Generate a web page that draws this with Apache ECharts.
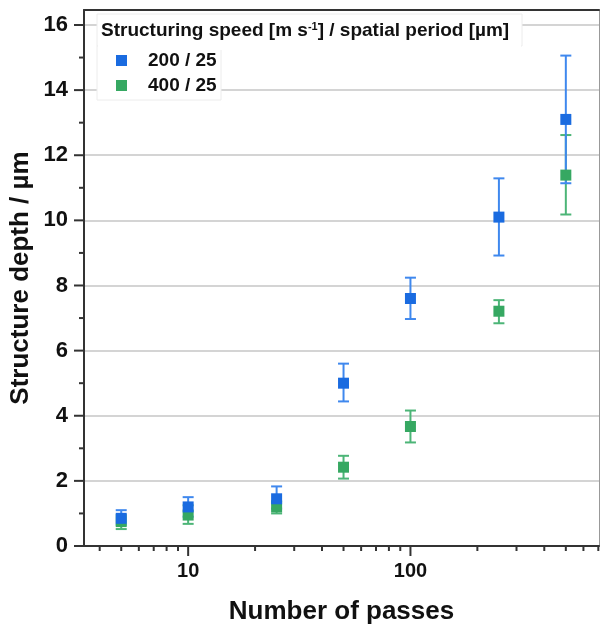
<!DOCTYPE html>
<html>
<head>
<meta charset="utf-8">
<script src="https://cdn.jsdelivr.net/npm/echarts@6/dist/echarts.min.js"></script>
<style>html,body{margin:0;padding:0;background:#fff;}#c{width:601px;height:625px;}</style>
</head>
<body>
<div id="c"></div>
<script>
const passes = [5, 10, 25, 50, 100, 250, 500];
const depth200 = [0.85, 1.2, 1.45, 5.0, 7.6, 10.1, 13.1];
const low200 = [0.65, 0.9, 1.15, 4.44, 6.97, 8.92, 11.14];
const high200 = [1.1, 1.5, 1.83, 5.6, 8.24, 11.29, 15.06];
const depth400 = [0.75, 0.95, 1.2, 2.42, 3.67, 7.21, 11.39];
const low400 = [0.52, 0.68, 1.0, 2.07, 3.18, 6.84, 10.18];
const high400 = [0.95, 1.25, 1.38, 2.77, 4.16, 7.55, 12.62];
const seriesNames = ['200 / 25', '400 / 25'];
const xMajorTicks = [10, 100];
const xMinorTicks = [4, 5, 6, 7, 8, 9, 20, 30, 40, 50, 60, 70, 80, 90, 200, 300, 400, 500, 600, 700];
const yMajorTicks = [0, 2, 4, 6, 8, 10, 12, 14, 16];
const yMinorTicks = [1, 3, 5, 7, 9, 11, 13, 15];
const X_MIN = 3.4, X_MAX = 705, Y_MIN = 0, Y_MAX = 16.46;

const FONT = 'Arial, "Liberation Sans", sans-serif';
const blueMark = '#1a6be0', blueLine = '#3f88ee';
const greenMark = '#36a862', greenLine = '#4cb577';

function errSeries(name, lows, highs, color) {
  return {
    type: 'custom', name: name + ' err', clip: false, z: 2,
    data: passes.map((p, i) => [p, lows[i], highs[i]]),
    renderItem: function (params, api) {
      const lo = api.coord([api.value(0), api.value(1)]);
      const hi = api.coord([api.value(0), api.value(2)]);
      const hw = 5.5;
      const st = { stroke: color, lineWidth: 2 };
      return { type: 'group', children: [
        { type: 'line', shape: { x1: lo[0], y1: lo[1], x2: hi[0], y2: hi[1] }, style: st },
        { type: 'line', shape: { x1: lo[0] - hw, y1: lo[1], x2: lo[0] + hw, y2: lo[1] }, style: st },
        { type: 'line', shape: { x1: hi[0] - hw, y1: hi[1], x2: hi[0] + hw, y2: hi[1] }, style: st }
      ]};
    }
  };
}
function tickSeries(data, isX, len) {
  return {
    type: 'custom', clip: false, z: 3, silent: true,
    data: data.map(v => isX ? [v, Y_MIN] : [X_MIN, v]),
    renderItem: function (params, api) {
      const p = api.coord([api.value(0), api.value(1)]);
      const shape = isX ? { x1: p[0], y1: p[1], x2: p[0], y2: p[1] + len }
                        : { x1: p[0], y1: p[1], x2: p[0] - len, y2: p[1] };
      return { type: 'line', shape: shape, style: { stroke: '#333', lineWidth: 2 } };
    }
  };
}

const chart = echarts.init(document.getElementById('c'), null, { renderer: 'canvas' });
chart.setOption({
  animation: false,
  backgroundColor: '#fff',
  grid: { left: 84, top: 10, right: 2, bottom: 79, containLabel: false, outerBoundsMode: 'none' },
  title: {
    left: 101, top: 21, z: 8, padding: 0,
    text: '{a|Structuring speed [m s}{s|-1}{a|] / spatial period [µm]}',
    textStyle: { rich: {
      a: { fontFamily: FONT, fontWeight: 'bold', fontSize: 19, color: '#111' },
      s: { fontFamily: FONT, fontWeight: 'bold', fontSize: 11, color: '#111', verticalAlign: 'top', padding: [0, 0, 8, 0] }
    } }
  },
  legend: {
    data: seriesNames, orient: 'vertical', left: 116, top: 51, z: 8, padding: 0,
    itemWidth: 11, itemHeight: 11, itemGap: 6, icon: 'rect',
    textStyle: { fontFamily: FONT, fontWeight: 'bold', fontSize: 19, color: '#111', padding: [0, 0, 0, 16] }
  },
  graphic: [
    { type: 'rect', z: 5, shape: { x: 97, y: 14, width: 425, height: 32 }, style: { fill: '#fff', stroke: '#ececec', lineWidth: 1 } },
    { type: 'rect', z: 5, shape: { x: 97, y: 46, width: 124, height: 54 }, style: { fill: '#fff', stroke: '#ececec', lineWidth: 1 } },
    { type: 'rect', z: 6, shape: { x: 98, y: 40, width: 423, height: 10 }, style: { fill: '#fff' } }
  ],
  xAxis: [{
    type: 'log', logBase: 10, min: X_MIN, max: X_MAX,
    name: 'Number of passes', nameLocation: 'middle', nameGap: 53, nameMoveOverlap: false,
    nameTextStyle: { fontFamily: FONT, fontWeight: 'bold', fontSize: 26, color: '#111' },
    axisLine: { show: true, onZero: false, lineStyle: { color: '#333', width: 2 } },
    axisTick: { show: false }, splitLine: { show: false }, minorTick: { show: false },
    axisLabel: {
      margin: 15, fontFamily: FONT, fontWeight: 'bold', fontSize: 20, color: '#111',
      showMinLabel: false, showMaxLabel: false,
      formatter: function (v) { return xMajorTicks.some(t => Math.abs(t - v) < 1e-6 * t) ? String(Math.round(v)) : ''; }
    }
  }, {
    type: 'log', logBase: 10, min: X_MIN, max: X_MAX, position: 'top',
    axisLine: { show: true, onZero: false, lineStyle: { color: '#333', width: 2 } },
    axisTick: { show: false }, axisLabel: { show: false }, splitLine: { show: false }
  }],
  yAxis: [{
    type: 'value', min: Y_MIN, max: Y_MAX, interval: 2,
    name: 'Structure depth / µm', nameLocation: 'middle', nameGap: 50, nameMoveOverlap: false,
    nameTextStyle: { fontFamily: FONT, fontWeight: 'bold', fontSize: 26, color: '#111' },
    axisLine: { show: true, onZero: false, lineStyle: { color: '#333', width: 2 } },
    axisTick: { show: false },
    splitLine: { show: true, lineStyle: { color: '#d4d4d4', width: 2 } },
    axisLabel: {
      margin: 16, fontFamily: FONT, fontWeight: 'bold', fontSize: 22, color: '#111',
      formatter: function (v) { return yMajorTicks.indexOf(v) >= 0 ? String(v) : ''; }
    }
  }, {
    type: 'value', min: Y_MIN, max: Y_MAX, position: 'right',
    axisLine: { show: true, lineStyle: { color: '#999', width: 1 } },
    axisTick: { show: false }, axisLabel: { show: false }, splitLine: { show: false }
  }],
  series: [
    tickSeries(xMajorTicks, true, 10),
    tickSeries(xMinorTicks, true, 5),
    tickSeries(yMajorTicks, false, 10),
    tickSeries(yMinorTicks, false, 5),
    errSeries(seriesNames[1], low400, high400, greenLine),
    { type: 'scatter', name: seriesNames[1], symbol: 'rect', symbolSize: 11, z: 3,
      itemStyle: { color: greenMark, opacity: 1 },
      data: passes.map((p, i) => [p, depth400[i]]) },
    errSeries(seriesNames[0], low200, high200, blueLine),
    { type: 'scatter', name: seriesNames[0], symbol: 'rect', symbolSize: 11, z: 4,
      itemStyle: { color: blueMark, opacity: 1 },
      data: passes.map((p, i) => [p, depth200[i]]) }
  ]
});
</script>
</body>
</html>
